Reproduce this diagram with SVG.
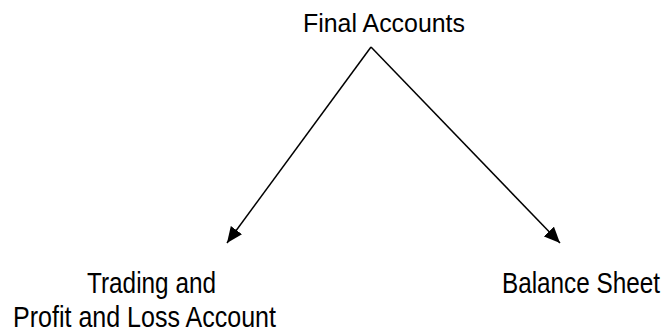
<svg xmlns="http://www.w3.org/2000/svg" width="665" height="330" viewBox="0 0 665 330">
  <style>
    .lbl { font-family: "Liberation Sans", Arial, sans-serif; fill: #000; }
    .conn { stroke: #000; stroke-width: 1.5; fill: none; marker-end: url(#head); }
  </style>
  <defs>
    <marker id="head" markerUnits="userSpaceOnUse" markerWidth="18" markerHeight="14" refX="16" refY="7" orient="auto">
      <path d="M0,0 L16,7 L0,14 z" fill="#000"/>
    </marker>
  </defs>
  <rect width="665" height="330" fill="#fff"/>

  <g id="final-accounts">
    <text class="lbl" x="303" y="31.5" font-size="26" textLength="162" lengthAdjust="spacingAndGlyphs">Final Accounts</text>
  </g>

  <g id="trading-pl">
    <text class="lbl" x="87" y="292.5" font-size="29" textLength="129" lengthAdjust="spacingAndGlyphs">Trading and</text>
    <text class="lbl" x="13" y="327" font-size="29" textLength="263" lengthAdjust="spacingAndGlyphs">Profit and Loss Account</text>
  </g>

  <g id="balance-sheet">
    <text class="lbl" x="502" y="292.5" font-size="29" textLength="158" lengthAdjust="spacingAndGlyphs">Balance Sheet</text>
  </g>

  <g id="connectors">
    <line class="conn" x1="371" y1="47" x2="227" y2="243"/>
    <line class="conn" x1="371" y1="47" x2="560" y2="243"/>
  </g>
</svg>
